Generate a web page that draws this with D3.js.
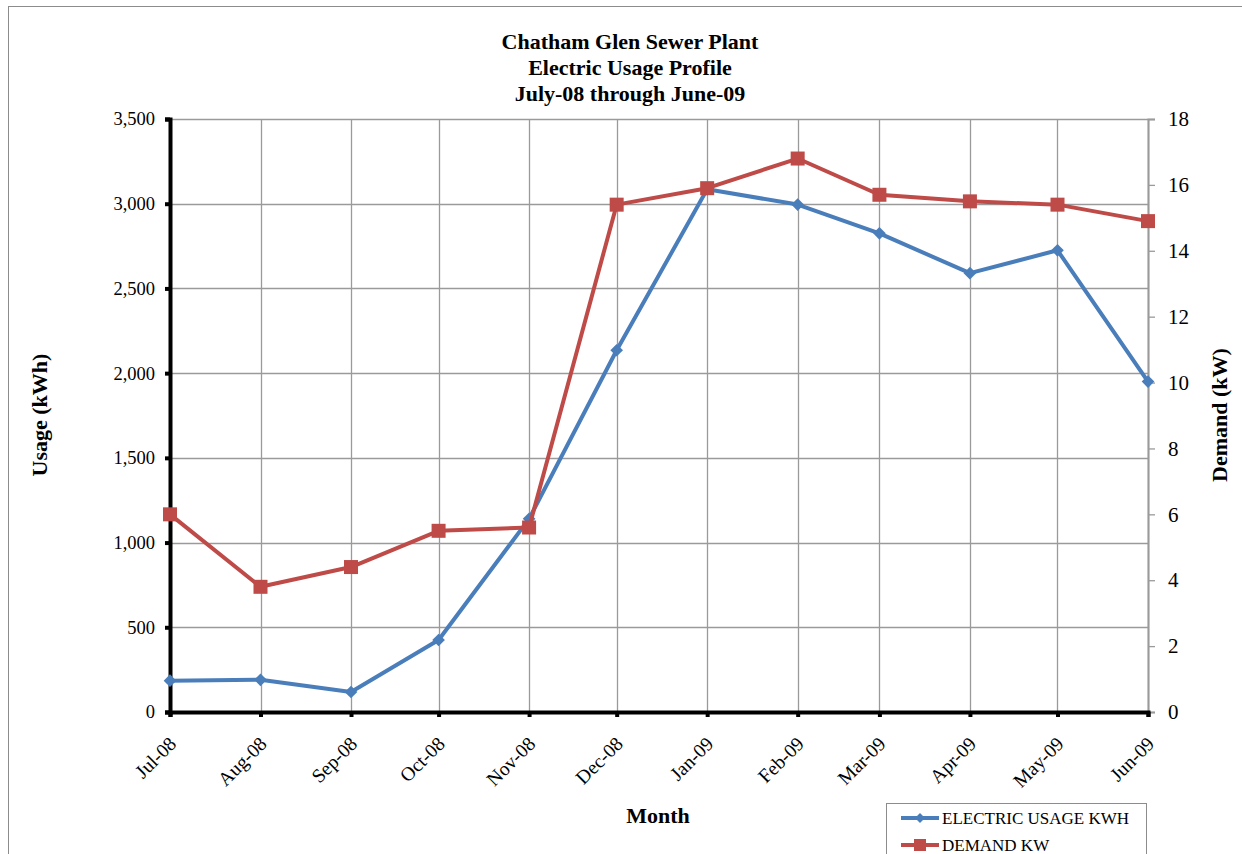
<!DOCTYPE html>
<html>
<head>
<meta charset="utf-8">
<script src="https://cdn.jsdelivr.net/npm/d3@7"></script>
<style>
  html, body { margin: 0; padding: 0; background: #fff; }
  svg { display: block; font-family: "Liberation Serif", "Times New Roman", serif; }
</style>
</head>
<body>
<svg id="chart" width="1242" height="854"></svg>
<script>
// Monthly readings, July 2008 through June 2009
const months = ["2008-07-01", "2008-08-01", "2008-09-01", "2008-10-01", "2008-11-01", "2008-12-01",
                "2009-01-01", "2009-02-01", "2009-03-01", "2009-04-01", "2009-05-01", "2009-06-01"];
const usageKWh = [185, 190, 118, 425, 1140, 2135, 3085, 2995, 2825, 2590, 2725, 1950];
const demandKW = [6.0, 3.8, 4.4, 5.5, 5.6, 15.4, 15.9, 16.8, 15.7, 15.5, 15.4, 14.9];
const usageTicks = [0, 500, 1000, 1500, 2000, 2500, 3000, 3500];
const demandTicks = [0, 2, 4, 6, 8, 10, 12, 14, 16, 18];
const titleLines = ["Chatham Glen Sewer Plant", "Electric Usage Profile", "July-08 through June-09"];
const seriesNames = ["ELECTRIC USAGE KWH", "DEMAND KW"];

const blue = "#4A7EBB";
const red = "#BE4B48";
const grid = "#9a9a9a";

const svg = d3.select("#chart");
const dates = months.map(d3.utcParse("%Y-%m-%d"));

const plot = { left: 170, right: 1148, top: 119, bottom: 712 };

const x = d3.scaleUtc().domain(d3.extent(dates)).range([plot.left, plot.right]);
const yL = d3.scaleLinear().domain([0, 3500]).range([plot.bottom, plot.top]);
const yR = d3.scaleLinear().domain([0, 18]).range([plot.bottom, plot.top]);

// outer chart frame
svg.append("rect").attr("x", 8.5).attr("y", 6.5).attr("width", 1300).attr("height", 900)
  .attr("fill", "#fff").attr("stroke", "#8c8c8c").attr("stroke-width", 1);

// title
svg.append("g").selectAll("text").data(titleLines).join("text")
  .attr("x", 630).attr("y", (d, i) => 49 + i * 26)
  .attr("text-anchor", "middle").attr("font-weight", "bold").attr("font-size", 22)
  .text(d => d);

// horizontal gridlines
svg.append("g").selectAll("line").data(usageTicks).join("line")
  .attr("x1", plot.left).attr("x2", plot.right)
  .attr("y1", d => Math.round(yL(d)) + 0.5).attr("y2", d => Math.round(yL(d)) + 0.5)
  .attr("stroke", grid).attr("stroke-width", 1.3);

// vertical gridlines
svg.append("g").selectAll("line").data(dates).join("line")
  .attr("x1", d => Math.round(x(d)) + 0.5).attr("x2", d => Math.round(x(d)) + 0.5)
  .attr("y1", plot.top).attr("y2", plot.bottom)
  .attr("stroke", grid).attr("stroke-width", 1.3);

// right axis (demand)
const axR = svg.append("g").attr("transform", `translate(${plot.right},0)`)
  .call(d3.axisRight(yR).tickValues(demandTicks).tickSize(7).tickPadding(13));
axR.select(".domain").attr("stroke", grid).attr("stroke-width", 2);
axR.selectAll(".tick line").attr("stroke", grid).attr("stroke-width", 1.3);
axR.selectAll("text").attr("font-size", 21).attr("font-family", "Liberation Serif").attr("fill", "#000");

// left axis (usage)
const axL = svg.append("g").attr("transform", `translate(${plot.left},0)`)
  .call(d3.axisLeft(yL).tickValues(usageTicks).tickSize(5).tickPadding(10).tickFormat(d3.format(",")));
axL.select(".domain").attr("stroke", "#000").attr("stroke-width", 4);
axL.selectAll(".tick line").attr("stroke", "#000").attr("stroke-width", 4);
axL.selectAll("text").attr("font-size", 18.5).attr("font-family", "Liberation Serif").attr("fill", "#000");

// bottom axis (month)
const axB = svg.append("g").attr("transform", `translate(0,${plot.bottom})`)
  .call(d3.axisBottom(x).tickValues(dates).tickSize(5).tickFormat(d3.utcFormat("%b-%y")));
axB.select(".domain").attr("stroke", "#000").attr("stroke-width", 4);
axB.selectAll(".tick line").attr("stroke", "#000").attr("stroke-width", 4);
axB.selectAll("text")
  .attr("font-size", 19.5).attr("font-family", "Liberation Serif").attr("fill", "#000")
  .attr("text-anchor", "end").attr("dy", null).attr("y", 0)
  .attr("transform", "translate(7,33) rotate(-45)");

// axis titles
svg.append("text").attr("transform", "translate(47,415) rotate(-90)")
  .attr("text-anchor", "middle").attr("font-weight", "bold").attr("font-size", 22).text("Usage (kWh)");
svg.append("text").attr("transform", "translate(1227,415) rotate(-90)")
  .attr("text-anchor", "middle").attr("font-weight", "bold").attr("font-size", 22).text("Demand (kW)");
svg.append("text").attr("x", 658).attr("y", 823)
  .attr("text-anchor", "middle").attr("font-weight", "bold").attr("font-size", 22).text("Month");

// series
const usageLine = d3.line().x((d, i) => x(dates[i])).y(d => yL(d));
const demandLine = d3.line().x((d, i) => x(dates[i])).y(d => yR(d));
const diamond = d3.symbol().type(d3.symbolSquare).size(80);

svg.append("path").datum(usageKWh).attr("d", usageLine)
  .attr("fill", "none").attr("stroke", blue).attr("stroke-width", 4).attr("stroke-linejoin", "round");
svg.append("g").selectAll("path").data(usageKWh).join("path")
  .attr("d", diamond)
  .attr("transform", (d, i) => `translate(${x(dates[i])},${yL(d)}) rotate(45)`)
  .attr("fill", blue);

svg.append("path").datum(demandKW).attr("d", demandLine)
  .attr("fill", "none").attr("stroke", red).attr("stroke-width", 4).attr("stroke-linejoin", "round");
svg.append("g").selectAll("rect").data(demandKW).join("rect")
  .attr("x", (d, i) => x(dates[i]) - 7).attr("y", d => yR(d) - 7)
  .attr("width", 14).attr("height", 14).attr("fill", red);

// legend
const lg = svg.append("g");
lg.append("rect").attr("x", 886.5).attr("y", 803.5).attr("width", 260).attr("height", 80)
  .attr("fill", "#fff").attr("stroke", "#8c8c8c");
const lgItems = lg.selectAll("g").data(seriesNames).join("g")
  .attr("transform", (d, i) => `translate(0,${818 + i * 27})`);
lgItems.append("line").attr("x1", 901).attr("x2", 939).attr("y1", 0).attr("y2", 0)
  .attr("stroke", (d, i) => i === 0 ? blue : red).attr("stroke-width", 4);
lgItems.each(function (d, i) {
  const g = d3.select(this);
  if (i === 0) {
    g.append("path").attr("d", d3.symbol().type(d3.symbolSquare).size(50))
      .attr("transform", "translate(920,0) rotate(45)").attr("fill", blue);
  } else {
    g.append("rect").attr("x", 914).attr("y", -6).attr("width", 12).attr("height", 12).attr("fill", red);
  }
});
lgItems.append("text").attr("x", 942).attr("y", 6).attr("font-size", 17).text(d => d);
</script>
</body>
</html>
